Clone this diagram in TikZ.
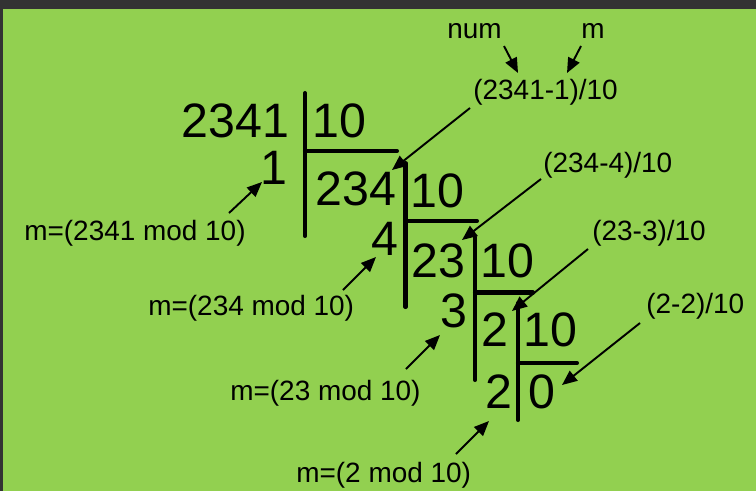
\documentclass[tikz,border=0pt]{standalone}
\usepackage{fontspec}
\setmainfont{Liberation Sans}
\usetikzlibrary{arrows.meta}
\definecolor{panelgreen}{HTML}{92D050}
\definecolor{framegray}{HTML}{333333}

\begin{document}
\begin{tikzpicture}[
    x=0.02cm, y=-0.02cm,
    big/.style={inner sep=0pt, anchor=base west,
                font=\fontsize{27.5pt}{33pt}\selectfont},
    note/.style={inner sep=0pt, anchor=base west,
                 font=\fontsize{15.9pt}{19pt}\selectfont},
    bar/.style={line width=2.3pt, line cap=round},
    arr/.style={-{Triangle[length=0.3cm, width=0.25cm]}, line width=1.1pt}
  ]
  \useasboundingbox (0,0) rectangle (756,491);
  \fill[framegray] (0,0) rectangle (756,491);
  \fill[panelgreen] (3,9) rectangle (756,491);
  %% Division steps
  \node[big] (n2341) at (181.5,137) {2341};
  \node[big] (d1)    at (312,137)   {10};
  \node[big] (r1)    at (260,184)   {1};
  \node[big] (n234)  at (315.5,205) {234};
  \node[big] (d2)    at (410,207)   {10};
  \node[big] (r4)    at (371,255)   {4};
  \node[big] (n23)   at (411.5,277) {23};
  \node[big] (d3)    at (480,277)   {10};
  \node[big] (r3)    at (440,327)   {3};
  \node[big] (n2)    at (481.5,346) {2};
  \node[big] (d4)    at (523,346)   {10};
  \node[big] (r2)    at (485.5,408) {2};
  \node[big] (n0)    at (528,408)   {0};
  %% Bars
  \draw[bar] (305,93) -- (305,236)   (305,151) -- (397,151);
  \draw[bar] (405.5,163) -- (405.5,307) (405.5,221) -- (477,221);
  \draw[bar] (475,237) -- (475,380)  (475,292.5) -- (533,292.5);
  \draw[bar] (518,303) -- (518,420)  (518,363) -- (577,363);
  %% Quotient notes
  \node[note] (num) at (447,38)  {num};
  \node[note] (mm)  at (581,38)  {m};
  \node[note] (q1)  at (473,99)  {(2341-1)/10};
  \node[note] (q2)  at (543,172) {(234-4)/10};
  \node[note] (q3)  at (592,240) {(23-3)/10};
  \node[note] (q4)  at (646,313) {(2-2)/10};
  \draw[arr] ([shift={(57,8)}]num.base west) -- ([shift={(45,-26)}]q1.base west);
  \draw[arr] ([shift={(0,8)}]mm.base west)   -- ([shift={(94,-26)}]q1.base west);
  \draw[arr] ([shift={(-3,9)}]q1.base west)  -- ([shift={(76.5,-35)}]n234.base west);
  \draw[arr] ([shift={(-2,7)}]q2.base west)  -- ([shift={(50.5,-37)}]n23.base west);
  \draw[arr] ([shift={(-4,9)}]q3.base west)  -- ([shift={(30.5,-35)}]n2.base west);
  \draw[arr] ([shift={(-6,10)}]q4.base west) -- ([shift={(34,-23)}]n0.base west);
  %% Remainder notes
  \node[note] (m1) at (24,240)  {m=(2341 mod 10)};
  \node[note] (m2) at (148,315) {m=(234 mod 10)};
  \node[note] (m3) at (230,400) {m=(23 mod 10)};
  \node[note] (m4) at (296,482) {m=(2 mod 10)};
  \draw[arr] ([shift={(205,-27)}]m1.base west) -- ([shift={(2,-2)}]r1.base west);
  \draw[arr] ([shift={(195,-25)}]m2.base west) -- ([shift={(5,2)}]r4.base west);
  \draw[arr] ([shift={(176,-31)}]m3.base west) -- ([shift={(0,8)}]r3.base west);
  \draw[arr] ([shift={(160,-28)}]m4.base west) -- ([shift={(3.5,13)}]r2.base west);
\end{tikzpicture}
\end{document}
